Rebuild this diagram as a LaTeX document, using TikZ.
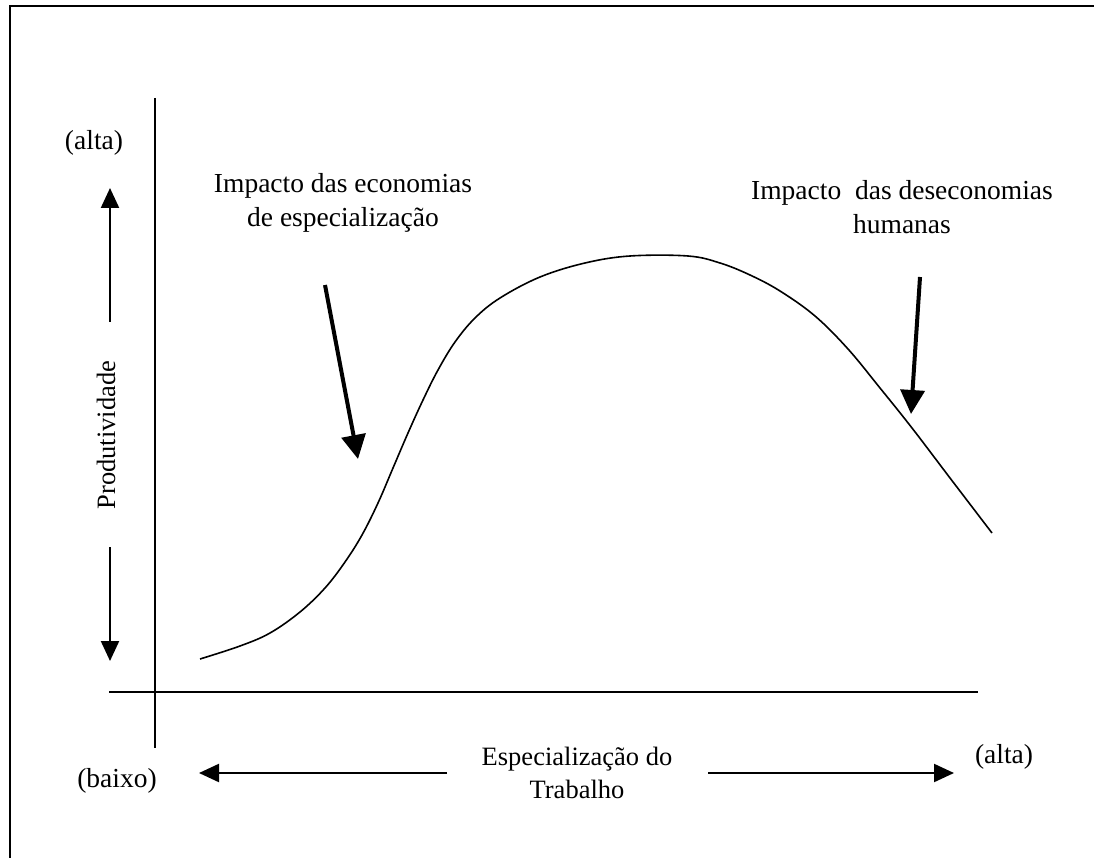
\documentclass[tikz,border=0pt]{standalone}
\usepackage{fontspec}
\setmainfont{Liberation Serif}
\usetikzlibrary{arrows.meta}
\begin{document}
\begin{tikzpicture}[x=1pt,y=-1pt,
  lbl/.style={font=\fontsize{27.5}{34}\selectfont, inner sep=0pt, align=center},
  axlbl/.style={font=\fontsize{26.5}{33}\selectfont, inner sep=0pt, align=center},
  axisline/.style={line width=2.6pt},
  framelin/.style={line width=2.6pt},
  thinarrow/.style={line width=2.2pt, -{Triangle[length=20pt,width=18pt]}},
  thickarrow/.style={line width=4pt, -{Triangle[length=24pt,width=24pt]}},
  curve/.style={line width=1.6pt}
]
\useasboundingbox (0,0) rectangle (1094,858);
% frame
\draw[framelin] (10,860) -- (10,6) -- (1096,6);
% axes
\coordinate (vtop) at (155,98);
\coordinate (vbot) at (155,748);
\coordinate (hl) at (109,692);
\coordinate (hr) at (978,692);
\draw[axisline] (vtop) -- (vbot);
\draw[axisline] (hl) -- (hr);
% labels
\node[lbl] (altaY) at (94,143) {(alta)};
\node[axlbl, rotate=90] (prod) at (106,435) {Produtividade};
\coordinate (upS) at (110,322);
\coordinate (upT) at (110,188);
\coordinate (dnS) at (110,547);
\coordinate (dnT) at (110,661);
\draw[thinarrow] (upS) -- (upT);
\draw[thinarrow] (dnS) -- (dnT);
\node[lbl] (baixo) at (117,781) {(baixo)};
\node[lbl] (altaX) at (1004,757) {(alta)};
\node[axlbl] (espec) at (577,773) {Especialização do\\Trabalho};
\coordinate (lS) at (447,773);
\coordinate (lT) at (199,773);
\coordinate (rS) at (708,773);
\coordinate (rT) at (954,773);
\draw[thinarrow] (lS) -- (lT);
\draw[thinarrow] (rS) -- (rT);
\node[lbl] (econ) at (343,203) {Impacto das economias\\de especialização};
\node[lbl] (desecon) at (902,207) {Impacto\ \ das deseconomias\\humanas};
% curve
\draw[curve] plot[smooth, tension=0.6] coordinates {
 (200,659) (240,646) (270,633) (300,612) (325,588) (345,562) (362,535)
 (378,503) (393,468) (408,433) (423,400) (438,370) (455,342) (475,318)
 (500,298) (540,277) (585,263) (630,256) (688,256) (720,263) (750,275)
 (780,291) (815,316) (848,349) (880,388) (912,428) (950,478) (992,533)};
% impact arrows
\coordinate (a1S) at (325,285);
\coordinate (a1T) at (358,459);
\coordinate (a2S) at (920,277);
\coordinate (a2T) at (911,414);
\draw[thickarrow] (a1S) -- (a1T);
\draw[thickarrow] (a2S) -- (a2T);
\end{tikzpicture}
\end{document}
